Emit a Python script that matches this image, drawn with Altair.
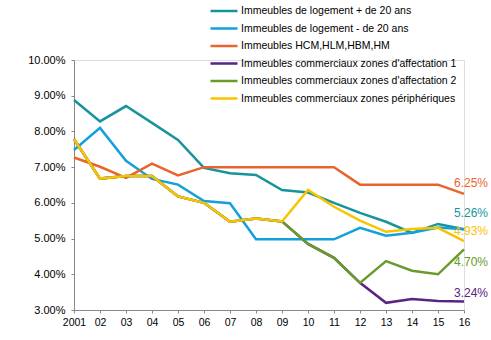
import altair as alt
import pandas as pd

years = list(range(2001, 2017))
series_names = [
    "Immeubles de logement + de 20 ans",
    "Immeubles de logement - de 20 ans",
    "Immeubles HCM,HLM,HBM,HM",
    "Immeubles commerciaux zones d'affectation 1",
    "Immeubles commerciaux zones d'affectation 2",
    "Immeubles commerciaux zones périphériques",
]
colors = ["#16949C", "#14A0DC", "#E8642C", "#5A2483", "#6A9A2A", "#F8C400"]

log_plus20 = [8.88, 8.28, 8.71, 8.24, 7.76, 6.98, 6.83, 6.78, 6.36, 6.29, 6.00, 5.72, 5.47, 5.16, 5.41, 5.26]
log_moins20 = [7.48, 8.10, 7.18, 6.67, 6.51, 6.05, 5.99, 4.98, 4.98, 4.98, 4.98, 5.30, 5.08, 5.16, 5.31, 5.26]
hcm = [7.27, 7.01, 6.70, 7.10, 6.77, 7.00, 7.00, 7.00, 7.00, 7.00, 7.00, 6.51, 6.51, 6.51, 6.51, 6.25]
zone1 = [7.78, 6.68, 6.75, 6.75, 6.18, 6.00, 5.47, 5.56, 5.48, 4.85, 4.46, 3.76, 3.20, 3.31, 3.25, 3.24]
zone2 = [7.78, 6.68, 6.75, 6.75, 6.18, 6.00, 5.47, 5.56, 5.48, 4.85, 4.46, 3.76, 4.37, 4.10, 4.00, 4.70]
peripheriques = [7.78, 6.68, 6.75, 6.75, 6.18, 6.00, 5.47, 5.56, 5.48, 6.36, 5.89, 5.50, 5.19, 5.27, 5.30, 4.93]

all_values = [log_plus20, log_moins20, hcm, zone1, zone2, peripheriques]

rows = []
for name, vals in zip(series_names, all_values):
    for y, v in zip(years, vals):
        rows.append({"year": y, "value": v / 100.0, "series": name})
df = pd.DataFrame(rows)

# End labels (series index, dy offset)
label_series = [2, 0, 5, 4, 3]
label_dy = [-11, -16, -10, 13, -8]

FONT = "Liberation Sans"

color_scale = alt.Scale(domain=series_names, range=colors)

x_axis = alt.Axis(
    title=None, values=years, grid=False, labelOverlap=False, labelBound=False,
    labelFlush=False,
    labelExpr="datum.value == 2001 ? '2001' : slice(toString(datum.value), 2)",
    domainColor="#888888", tickColor="#888888", tickSize=3,
    labelFont=FONT, labelFontSize=10.5, labelColor="#000000", labelPadding=4,
)
y_axis = alt.Axis(
    title=None, values=[0.03, 0.04, 0.05, 0.06, 0.07, 0.08, 0.09, 0.10],
    format=".2%", grid=False, labelOverlap=False, labelBound=False,
    labelFlush=False,
    domainColor="#888888", tickColor="#888888", tickSize=3,
    labelFont=FONT, labelFontSize=11, labelColor="#000000", labelPadding=6,
)
x_scale = alt.Scale(domain=[2001, 2016], nice=False)
y_scale = alt.Scale(domain=[0.03, 0.10], nice=False, zero=False)

x_enc = alt.X("year:Q", scale=x_scale, axis=x_axis)
y_enc = alt.Y("value:Q", scale=y_scale, axis=y_axis)

lines = alt.Chart(df).mark_line(strokeWidth=2.5).encode(
    x=x_enc,
    y=y_enc,
    color=alt.Color(
        "series:N", scale=color_scale, sort=series_names,
        legend=alt.Legend(
            title=None, orient="none", legendX=142, legendY=-57,
            symbolType="M-2,0H2", symbolSize=182, symbolStrokeWidth=2.5,
            labelFont=FONT, labelFontSize=10.5, labelColor="#000000",
            labelOffset=9, rowPadding=3.5, padding=0, labelLimit=400,
        ),
    ),
    detail="series:N",
)

layers = [lines]
for idx, dy in zip(label_series, label_dy):
    end_val = all_values[idx][-1]
    ldf = pd.DataFrame({"year": [years[-1]], "value": [end_val / 100.0],
                        "label": [f"{end_val:.2f}%"]})
    layers.append(
        alt.Chart(ldf).mark_text(
            align="left", baseline="middle", dx=-10, dy=dy,
            font=FONT, fontSize=12, color=colors[idx],
        ).encode(
            x=x_enc,
            y=y_enc,
            text="label:N",
        )
    )

chart = alt.layer(*layers).properties(
    width=390, height=250,
    autosize=alt.AutoSizeParams(type="none"),
    padding={"left": 74, "top": 60, "right": 27, "bottom": 30},
).configure_view(stroke="transparent", strokeWidth=0).configure(background="#ffffff").configure_axis(
    labelOverlap=False
)

chart.save("out.html", embed_options={"renderer": "svg", "actions": False})
